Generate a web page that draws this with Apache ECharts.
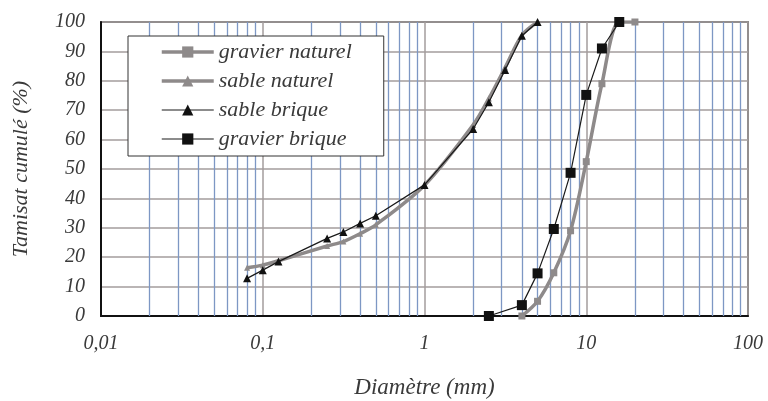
<!DOCTYPE html>
<html>
<head>
<meta charset="utf-8">
<script src="https://cdn.jsdelivr.net/npm/echarts@6/dist/echarts.min.js"></script>
<style>
  html, body { margin: 0; padding: 0; background: #fff; }
  #chart { width: 768px; height: 401px; }
</style>
</head>
<body>
<div id="chart"></div>
<script>
// diamètres (mm) et tamisats cumulés (%)
const gravierNaturelD = [4, 5, 6.3, 8, 10, 12.5, 16, 20]
const gravierNaturelP = [0, 5, 14.7, 29, 52.5, 79, 100, 100]

const sableD = [0.08, 0.1, 0.125, 0.25, 0.315, 0.4, 0.5, 1, 2, 2.5, 3.15, 4, 5]
const sableNaturelP = [16.4, 17.3, 18.8, 23.8, 25.3, 28, 31, 44.5, 65, 74, 84.5, 95.5, 100]
const sableBriqueP = [12.8, 15.6, 18.5, 26.4, 28.6, 31.5, 34.1, 44.6, 63.6, 72.7, 83.7, 95.3, 100]

const gravierBriqueD = [2.5, 4, 5, 6.3, 8, 10, 12.5, 16]
const gravierBriqueP = [0, 3.7, 14.5, 29.6, 48.7, 75.2, 91, 100]

const decades = [0.01, 0.1, 1, 10]
const yTicks = [0, 10, 20, 30, 40, 50, 60, 70, 80, 90, 100]

// lignes de grille secondaires (2..9 par décade)
const minorLines = []
decades.forEach(d => {
  for (let k = 2; k <= 9; k++) minorLines.push({ xAxis: +(d * k).toPrecision(3) })
})

const zip = (xs, ys) => xs.map((x, i) => [x, ys[i]])

const font = 'Liberation Serif'
const textColor = '#3a3a3a'
const grayLine = '#8e8a8a'

const chart = echarts.init(document.getElementById('chart'), null, { renderer: 'canvas' })

chart.setOption({
  animation: false,
  backgroundColor: '#fff',
  grid: {
    left: 101, right: 20, top: 22, bottom: 85,
    outerBoundsMode: 'none',
    show: true, borderColor: '#333', borderWidth: 1.5
  },
  legend: {
    orient: 'vertical',
    left: 128, top: 36,
    padding: [5, 32, 6, 32],
    itemGap: 7,
    itemWidth: 52,
    itemHeight: 14,
    backgroundColor: '#fff',
    borderColor: '#333',
    borderWidth: 1,
    lineStyle: { width: 'inherit' },
    textStyle: { fontFamily: font, fontStyle: 'italic', fontSize: 22, color: textColor },
    data: ['gravier naturel', 'sable naturel', 'sable brique', 'gravier brique']
  },
  xAxis: {
    type: 'log',
    logBase: 10,
    min: 0.01,
    max: 100,
    interval: 1,
    name: 'Diamètre (mm)',
    nameLocation: 'middle',
    nameGap: 60,
    nameTextStyle: { fontFamily: font, fontStyle: 'italic', fontSize: 23, color: textColor },
    axisLine: { lineStyle: { color: '#111', width: 2 } },
    axisTick: { show: false },
    axisLabel: {
      margin: 18,
      fontFamily: font, fontStyle: 'italic', fontSize: 20, color: textColor,
      formatter: v => String(v).replace('.', ',')
    },
    splitLine: { show: true, lineStyle: { color: '#a39d9d', width: 1.5 } }
  },
  yAxis: {
    type: 'value',
    min: 0,
    max: 100,
    interval: 10,
    name: 'Tamisat cumulé (%)',
    nameLocation: 'middle',
    nameGap: 69,
    nameTextStyle: { fontFamily: font, fontStyle: 'italic', fontSize: 22, color: textColor },
    axisLine: { show: true, lineStyle: { color: '#111', width: 2 } },
    axisTick: { show: false },
    axisLabel: {
      margin: 16,
      fontFamily: font, fontStyle: 'italic', fontSize: 20, color: textColor,
      formatter: v => yTicks.includes(v) ? String(v) : ''
    },
    splitLine: { show: true, lineStyle: { color: '#a39d9d', width: 1.5 } }
  },
  series: [
    {
      name: 'grille',
      type: 'line',
      data: [],
      silent: true,
      markLine: {
        z: 1,
        silent: true,
        symbol: 'none',
        label: { show: false },
        lineStyle: { color: '#7d97c4', width: 1.3, type: 'solid' },
        data: minorLines
      }
    },
    {
      name: 'gravier naturel',
      type: 'line',
      z: 10,
      smooth: 0.3,
      data: zip(gravierNaturelD, gravierNaturelP),
      symbol: 'rect',
      symbolSize: 7,
      itemStyle: { color: grayLine },
      lineStyle: { color: grayLine, width: 3.5 }
    },
    {
      name: 'sable naturel',
      type: 'line',
      z: 10,
      smooth: 0.3,
      data: zip(sableD, sableNaturelP),
      symbol: 'triangle',
      symbolSize: 6,
      itemStyle: { color: grayLine },
      lineStyle: { color: grayLine, width: 3.5 }
    },
    {
      name: 'sable brique',
      type: 'line',
      z: 11,
      data: zip(sableD, sableBriqueP),
      symbol: 'triangle',
      symbolSize: 8,
      itemStyle: { color: '#111' },
      lineStyle: { color: '#1a1a1a', width: 1.2 }
    },
    {
      name: 'gravier brique',
      type: 'line',
      z: 11,
      data: zip(gravierBriqueD, gravierBriqueP),
      symbol: 'rect',
      symbolSize: 10,
      itemStyle: { color: '#111' },
      lineStyle: { color: '#1a1a1a', width: 1.2 }
    }
  ]
})
</script>
</body>
</html>
